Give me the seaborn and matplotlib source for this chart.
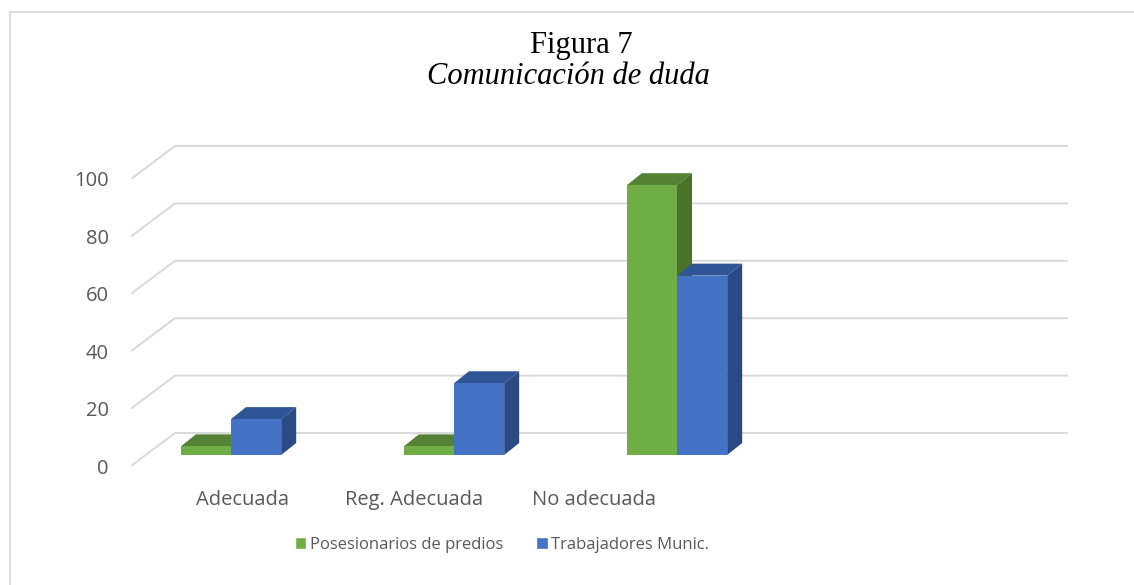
import pandas as pd
import matplotlib
matplotlib.use('Agg')
import matplotlib.pyplot as plt
from matplotlib.patches import Polygon, Patch, Rectangle
import seaborn as sns

# Datos (porcentajes)
categorias = ['Adecuada', 'Reg. Adecuada', 'No adecuada']
grupos = ['Posesionarios de predios', 'Trabajadores Munic.']
posesionarios = [3, 3, 94]
trabajadores = [12.5, 25, 62.5]
ticks_y = [0, 20, 40, 60, 80, 100]

# colores: frente, arriba, lado
verde = ('#70AD47', '#548235', '#4A7329')
azul = ('#4472C4', '#2F5597', '#2A4A85')

df = pd.DataFrame({
    'categoria': categorias * 2,
    'valor': posesionarios + trabajadores,
    'grupo': [grupos[0]] * 3 + [grupos[1]] * 3,
})

sns.set_style('white')
plt.rcParams['font.family'] = ['Open Sans', 'DejaVu Sans']

W, H = 1134, 585
fig = plt.figure(figsize=(W / 100, H / 100), dpi=100)
ax = fig.add_axes([131 / W, (H - 466) / H, (1068 - 131) / W, (466 - 140) / H])

sns.barplot(data=df, x='categoria', y='valor', hue='grupo', order=categorias,
            hue_order=grupos, palette=[verde[0], azul[0]], width=0.45,
            saturation=1, errorbar=None, linewidth=0, legend=False, ax=ax)

# escala en pixeles por unidad
px_x, px_y = 223.0, 2.87
ax.set_xlim(-100 / px_x, 837 / px_x)
ax.set_ylim(-(466 - 455) / px_y, (455 - 140) / px_y)

# efecto 3D de las barras
ddx, ddy = 15 / px_x, 12 / px_y
for i, (cont, cols) in enumerate(zip(ax.containers, [verde, azul])):
    for p in cont.patches:
        p.set_zorder(4 + 2 * i)
        x0, y0, w, h = p.get_x(), p.get_y(), p.get_width(), p.get_height()
        y1 = y0 + h
        top = [(x0, y1), (x0 + w, y1), (x0 + w + ddx, y1 + ddy), (x0 + ddx, y1 + ddy)]
        side = [(x0 + w, y0), (x0 + w + ddx, y0 + ddy), (x0 + w + ddx, y1 + ddy), (x0 + w, y1)]
        ax.add_patch(Polygon(top, closed=True, facecolor=cols[1], edgecolor='none', zorder=3 + 2 * i))
        ax.add_patch(Polygon(side, closed=True, facecolor=cols[2], edgecolor='none', zorder=3 + 2 * i))

# lineas de guia con perspectiva
frente = (455 - 466) / px_y
fondo = (455 - 433) / px_y
x_front = ax.get_xlim()[0]
x_back = (175 - 231) / px_x
x_right = ax.get_xlim()[1]
for v in ticks_y:
    ax.plot([x_front, x_back, x_right], [v + frente, v + fondo, v + fondo],
            color='#D9D9D9', lw=1.4, zorder=1, solid_capstyle='butt')

ax.set_yticks([v + frente for v in ticks_y])
ax.set_yticklabels([str(v) for v in ticks_y])
ax.set_xticks([(243 - 231) / px_x, (414 - 231) / px_x, (594 - 231) / px_x])
ax.set_xticklabels(categorias)
ax.tick_params(axis='both', length=0, labelsize=14.5, labelcolor='#595959')
ax.tick_params(axis='y', pad=16)
ax.tick_params(axis='x', pad=17)
ax.set_xlabel('')
ax.set_ylabel('')
sns.despine(ax=ax, left=True, bottom=True)

# titulo
fig.text(581 / W, 1 - 46 / H, 'Figura 7', ha='center', va='center',
         family='Liberation Serif', fontsize=22, color='black')
fig.text(568 / W, 1 - 76 / H, 'Comunicación de duda', ha='center', va='center',
         family='Liberation Serif', style='italic', fontsize=22, color='black')

# leyenda
handles = [Patch(facecolor=verde[0]), Patch(facecolor=azul[0])]
leg = fig.legend(handles, grupos, loc='center', bbox_to_anchor=(502 / W, 1 - 545 / H),
                 ncol=2, frameon=False, handlelength=0.7, handleheight=0.7,
                 handletextpad=0.2, columnspacing=2.0, fontsize=12)
for t in leg.get_texts():
    t.set_color('#595959')

# borde del grafico
fig.add_artist(Rectangle((10 / W, -0.05), 1.1, 1 - 12 / H + 0.05, transform=fig.transFigure,
                         fill=False, edgecolor='#D9D9D9', lw=1.2, clip_on=False))

fig.savefig('out.png', dpi=100)
